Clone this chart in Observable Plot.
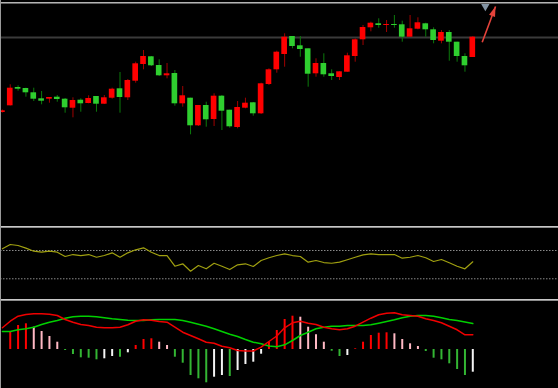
<!DOCTYPE html>
<html>
<head>
<meta charset="utf-8">
<script src="https://cdn.jsdelivr.net/npm/d3@7"></script>
<script src="https://cdn.jsdelivr.net/npm/@observablehq/plot@0.6"></script>
<style>
  html, body { margin: 0; padding: 0; background: #000; }
  #chart { position: relative; width: 558px; height: 388px; background: #000; overflow: hidden; }
  #chart svg { position: absolute; left: 0; }
  .line { position: absolute; left: 0; width: 558px; }
  .vline { position: absolute; top: 0; height: 388px; }
</style>
</head>
<body>
<div id="chart"></div>
<script>
// ---------- data ----------
const open  = [18.80,19.47,21.30,21.20,20.77,20.17,20.13,20.33,20.13,19.23,20.03,19.70,20.40,19.63,20.23,21.17,20.27,21.93,23.60,24.37,23.50,22.47,22.70,19.67,20.23,17.47,19.50,18.10,20.43,19.03,17.30,19.23,19.77,18.67,21.60,23.07,24.60,26.40,25.47,25.17,22.67,23.70,22.67,22.30,22.83,24.40,26.07,27.27,27.67,27.50,27.60,27.57,26.33,27.13,27.67,27.07,25.93,26.80,25.83,24.40,24.30];
const high  = [19.05,21.57,21.47,21.23,21.23,20.90,20.30,20.50,20.20,20.27,20.17,20.47,20.40,20.50,21.23,22.80,22.10,23.83,25.00,24.40,24.07,23.70,23.00,21.40,20.23,19.50,19.83,20.67,20.50,19.03,19.90,20.23,19.80,21.73,23.17,24.93,26.67,26.40,26.40,25.17,24.17,24.67,23.07,22.87,24.73,26.17,27.50,27.83,28.17,28.00,28.50,27.93,28.50,28.27,27.73,27.27,27.00,27.00,25.83,24.67,26.40];
const low   = [18.75,19.45,20.93,20.33,19.90,19.57,19.73,19.83,18.73,18.27,18.83,19.67,18.83,19.60,20.13,18.73,20.00,21.73,23.07,23.40,22.40,22.17,19.43,19.33,16.57,17.40,17.33,17.40,17.00,17.23,17.17,19.17,18.43,18.60,21.50,22.73,23.33,25.17,24.33,21.33,22.33,22.33,22.00,22.00,22.83,23.83,25.50,26.87,27.23,26.80,27.23,25.83,26.33,27.07,26.33,25.67,25.67,23.93,23.83,22.83,24.30];
const close = [18.97,21.23,21.13,20.77,20.13,19.93,20.30,20.10,19.27,20.00,19.67,20.20,19.63,20.27,21.13,20.30,22.00,23.67,24.40,23.47,22.47,22.67,19.67,20.47,17.47,19.50,18.07,20.43,18.93,17.37,19.30,19.73,18.67,21.67,23.07,24.83,26.33,25.40,25.10,22.63,23.70,22.57,22.40,22.87,24.47,26.07,27.30,27.73,27.50,27.60,27.50,26.33,27.17,27.77,27.07,26.00,26.80,25.83,24.40,23.47,26.33];
const priceLine = 26.30;

const rsi = [72.4,78.5,77.1,73.3,69.0,67.6,69.0,67.6,61.5,64.3,62.9,64.3,60.5,62.9,66.7,60.5,66.7,71.0,73.8,67.6,62.9,62.9,47.8,51.2,40.7,48.8,44.1,52.0,47.8,43.1,49.8,51.2,47.4,55.9,59.7,62.9,65.3,62.9,61.5,53.5,55.9,53.0,52.0,53.5,56.9,60.5,63.9,65.3,64.3,64.3,64.3,59.1,60.5,62.9,59.7,54.5,57.3,52.6,47.8,44.1,54.0];
const rsiLevels = [70, 30];

const hist = [null,0.346,0.48,0.514,0.446,0.36,0.26,0.146,-0.02,-0.10,-0.166,-0.174,-0.206,-0.186,-0.14,-0.154,-0.066,0.08,0.20,0.214,0.146,0.08,-0.154,-0.274,-0.52,-0.586,-0.666,-0.554,-0.52,-0.54,-0.42,-0.30,-0.254,-0.094,0.146,0.38,0.60,0.666,0.646,0.446,0.294,0.146,-0.034,-0.14,-0.12,0.014,0.146,0.28,0.326,0.334,0.314,0.20,0.114,0.06,-0.04,-0.174,-0.206,-0.286,-0.40,-0.52,-0.454];
const macdRed = [0.434,0.566,0.666,0.70,0.714,0.714,0.706,0.68,0.60,0.546,0.50,0.48,0.446,0.434,0.434,0.446,0.494,0.566,0.594,0.586,0.56,0.546,0.446,0.346,0.28,0.214,0.146,0.126,0.066,0.034,-0.02,-0.03,-0.03,0.046,0.16,0.27,0.434,0.534,0.566,0.526,0.50,0.446,0.414,0.394,0.414,0.466,0.546,0.626,0.694,0.726,0.734,0.694,0.68,0.666,0.614,0.58,0.534,0.466,0.394,0.294,0.294];
const macdGreen = [0.36,0.36,0.394,0.414,0.446,0.50,0.546,0.58,0.626,0.654,0.666,0.666,0.654,0.634,0.614,0.60,0.586,0.58,0.58,0.594,0.60,0.60,0.60,0.58,0.546,0.506,0.466,0.414,0.36,0.306,0.26,0.20,0.146,0.114,0.07,0.056,0.094,0.18,0.28,0.346,0.414,0.446,0.466,0.466,0.48,0.48,0.48,0.494,0.526,0.56,0.594,0.634,0.666,0.68,0.68,0.666,0.634,0.60,0.58,0.55,0.52];

// annotation (arrow + marker), in bar-index / price units
const arrowFrom = {i: 61.2, p: 25.83};
const arrowTo   = {i: 62.9, p: 29.40};
const marker    = {i: 61.6, p: 29.42};

// ---------- build ----------
const N = open.length;
const candles = d3.range(N).map(i => ({i, o: open[i], h: high[i], l: low[i], c: close[i], up: close[i] >= open[i]}));
const xScale = {domain: [0, N - 1], range: [1.9, 472.3], axis: null};
const chart = document.getElementById("chart");

function place(svg, top) { svg.style.top = top + "px"; chart.appendChild(svg); }

// narrow filled arrow head, tip at the origin, pointing up
const arrowHead = {draw(ctx) { ctx.moveTo(0, 0); ctx.lineTo(3.2, 10); ctx.lineTo(-3.2, 10); ctx.closePath(); }};

// main panel
const mainX = d3.scaleLinear(xScale.domain, xScale.range);
const mainY = d3.scaleLinear([7.4, 30], [226, 0]);
const headAngle = Math.atan2(mainX(arrowTo.i) - mainX(arrowFrom.i), mainY(arrowFrom.p) - mainY(arrowTo.p)) * 180 / Math.PI;

const main = Plot.plot({
  width: 558, height: 226, margin: 0,
  style: {background: "transparent"},
  x: xScale,
  y: {domain: [7.4, 30], range: [226, 0], axis: null},
  marks: [
    Plot.ruleY([priceLine], {stroke: "#3a3a3a", strokeWidth: 2}),
    Plot.ruleX(candles, {x: "i", y1: "l", y2: "h", stroke: d => d.up ? "#a00000" : "#0b7a0b", strokeWidth: 1}),
    Plot.rect(candles, {x1: d => d.i - 0.36, x2: d => d.i + 0.36, y1: "o", y2: "c", fill: d => d.up ? "#ff0000" : "#2fcf2f"}),
    Plot.link([{}], {x1: () => arrowFrom.i, y1: () => arrowFrom.p, x2: () => arrowTo.i, y2: () => arrowTo.p, stroke: "#e4433b", strokeWidth: 1.6}),
    Plot.dot([arrowTo], {x: "i", y: "p", symbol: arrowHead, rotate: headAngle, fill: "#e4433b", stroke: "none"}),
    Plot.dot([marker], {x: "i", y: "p", symbol: "triangle", rotate: 180, r: 3.2, fill: "#8494a4", stroke: "none"})
  ]
});
place(main, 0);

// RSI panel
const rsiData = rsi.map((v, i) => ({i, v}));
const p2 = Plot.plot({
  width: 558, height: 71, margin: 0,
  style: {background: "transparent"},
  x: xScale,
  y: {domain: [0, 100], range: [71.5, 0.8], axis: null},
  marks: [
    Plot.ruleY(rsiLevels, {stroke: "#8a8a8a", strokeWidth: 1, strokeDasharray: "1.5,1.5"}),
    Plot.line(rsiData, {x: "i", y: "v", stroke: "#a0a010", strokeWidth: 1.2})
  ]
});
place(p2, 228);

// MACD panel
const histData = hist.map((v, i) => {
  if (v == null) return null;
  const prev = i > 0 && hist[i - 1] != null ? hist[i - 1] : v;
  let color;
  if (v >= 0) color = v >= prev ? "#ff0000" : "#ffb8c4";
  else color = v <= prev ? "#33b533" : "#f4f4f4";
  return {i, v, color};
}).filter(d => d);
const red = macdRed.map((v, i) => ({i, v}));
const green = macdGreen.map((v, i) => ({i, v}));
const p3 = Plot.plot({
  width: 558, height: 87, margin: 0,
  style: {background: "transparent"},
  x: xScale,
  y: {domain: [-0.78, 0.96], range: [87, 0], axis: null},
  marks: [
    Plot.ruleX(histData, {x: "i", y1: 0, y2: "v", stroke: "color", strokeWidth: 2}),
    Plot.line(green, {x: "i", y: "v", stroke: "#00d000", strokeWidth: 1.5}),
    Plot.line(red, {x: "i", y: "v", stroke: "#f00000", strokeWidth: 1.5})
  ]
});
place(p3, 301);

// panel frame lines (decoration)
[[2, 1, "#b4b4b4"], [3, 1, "#606060"], [226, 1, "#c8c8c8"], [227, 1, "#8c8c8c"], [299, 1, "#c8c8c8"], [300, 1, "#8c8c8c"]]
  .forEach(([t, h, c]) => {
    const d = document.createElement("div");
    d.className = "line"; d.style.top = t + "px"; d.style.height = h + "px"; d.style.background = c;
    chart.appendChild(d);
  });
const lb = document.createElement("div");
lb.className = "vline"; lb.style.left = "0px"; lb.style.width = "1px"; lb.style.background = "#9a9a9a";
chart.appendChild(lb);
</script>
</body>
</html>
